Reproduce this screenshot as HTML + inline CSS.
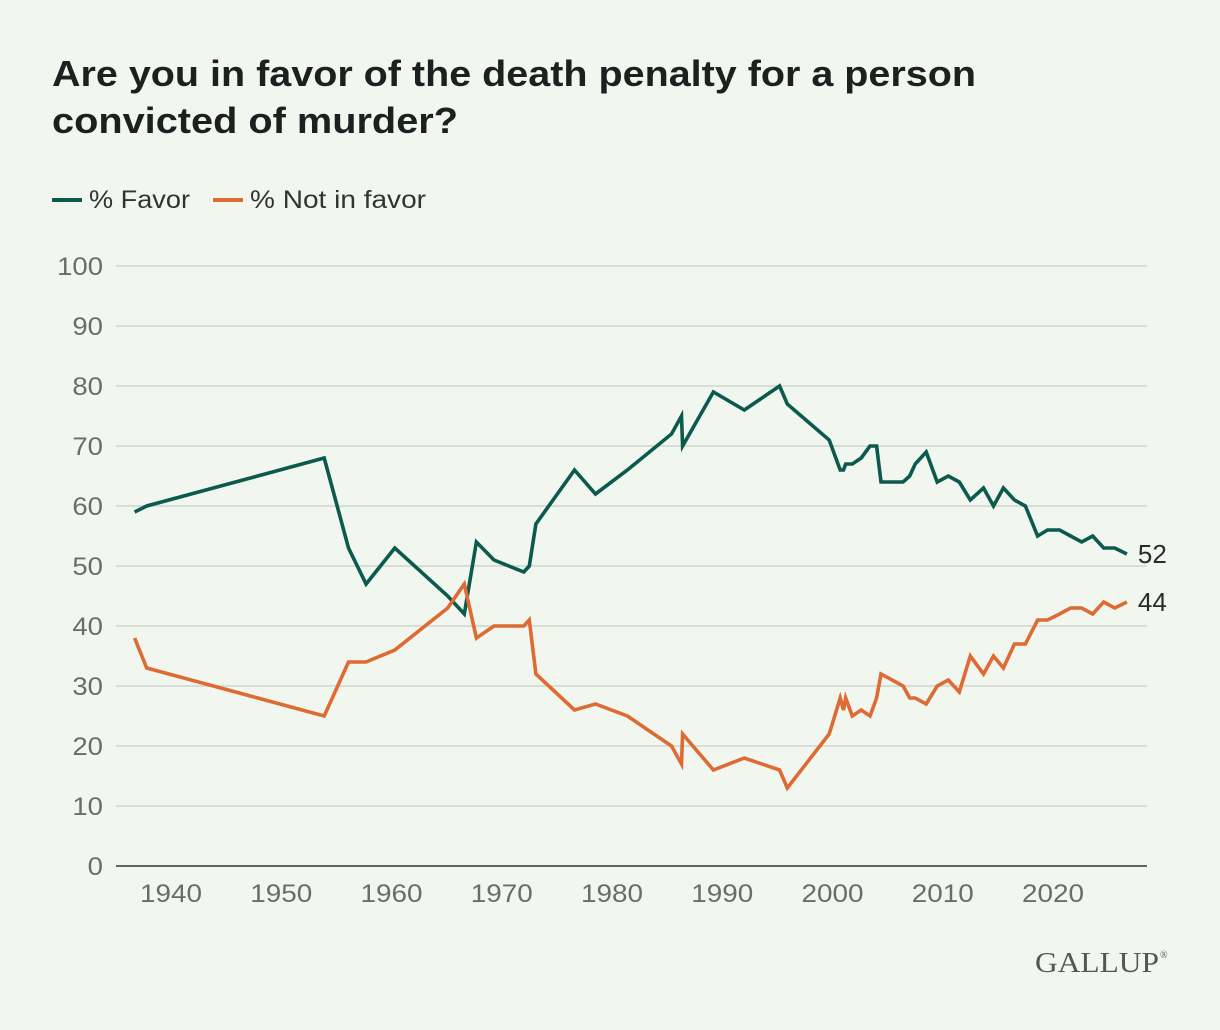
<!DOCTYPE html>
<html><head><meta charset="utf-8">
<style>
body{margin:0;background:#f1f7ef;}
svg{display:block;font-family:"Liberation Sans",Arial,sans-serif;}
</style></head>
<body>
<svg id="chart" width="1220" height="1030" viewBox="0 0 1220 1030">
<rect width="1220" height="1030" fill="#f1f7ef"/>
<text x="52" y="86" font-size="36" font-weight="bold" fill="#1f1f1f" textLength="924" lengthAdjust="spacingAndGlyphs">Are you in favor of the death penalty for a person</text>
<text x="52" y="133" font-size="36" font-weight="bold" fill="#1f1f1f" textLength="406" lengthAdjust="spacingAndGlyphs">convicted of murder?</text>
<g>
<g>
<line x1="52" y1="200" x2="82" y2="200" stroke="#0c5a4e" stroke-width="4"/>
<text x="89" y="208" font-size="25" fill="#333" textLength="101" lengthAdjust="spacingAndGlyphs">% Favor</text>
</g>
<g>
<line x1="213" y1="200" x2="243" y2="200" stroke="#dd6b33" stroke-width="4"/>
<text x="250" y="208" font-size="25" fill="#333" textLength="176" lengthAdjust="spacingAndGlyphs">% Not in favor</text>
</g>
</g>
<g id="grid"></g>
<g id="lines"></g>
<text x="1035" y="972" font-size="29" fill="#555" font-family="Liberation Serif,serif" textLength="124" lengthAdjust="spacingAndGlyphs">GALLUP</text>
<text x="1160" y="958" font-size="10" fill="#555" font-family="Liberation Serif,serif">®</text>
</svg>
<script>
const years=[1936.7,1937.8,1953.9,1956.1,1957.7,1960.3,1965.1,1966.6,1967.7,1969.3,1972.0,1972.5,1973.1,1976.6,1978.5,1981.4,1985.4,1986.3,1986.4,1989.2,1992.0,1995.2,1995.9,1999.7,2000.7,2001.0,2001.2,2001.8,2002.6,2003.4,2004.0,2004.4,2006.4,2007.0,2007.5,2008.5,2009.5,2010.5,2011.5,2012.5,2013.7,2014.6,2015.5,2016.5,2017.5,2018.6,2019.5,2020.6,2021.6,2022.6,2023.6,2024.6,2025.6,2026.7];
const favor=[59,60,68,53,47,53,45,42,54,51,49,50,57,66,62,66,72,75,70,79,76,80,77,71,66,66,67,67,68,70,70,64,64,65,67,69,64,65,64,61,63,60,63,61,60,55,56,56,55,54,55,53,53,52];
const notFavor=[38,33,25,34,34,36,43,47,38,40,40,41,32,26,27,25,20,17,22,16,18,16,13,22,28,26,28,25,26,25,28,32,30,28,28,27,30,31,29,35,32,35,33,37,37,41,41,42,43,43,42,44,43,44];
const yTicks=[0,10,20,30,40,50,60,70,80,90,100];
const xTicks=[1940,1950,1960,1970,1980,1990,2000,2010,2020];
const NS="http://www.w3.org/2000/svg";
function x(v){return 171+(v-1940)*11.025;}
function y(v){return 866-v*6;}
const grid=document.getElementById('grid');
const lines=document.getElementById('lines');
function mk(tag,attrs,parent){const e=document.createElementNS(NS,tag);for(const k in attrs)e.setAttribute(k,attrs[k]);parent.appendChild(e);return e;}
yTicks.forEach(t=>{
  const l=mk('line',{x1:116,x2:1147,y1:y(t),y2:y(t),stroke:t===0?'#333':'#d8ddd6','stroke-width':t===0?1.5:2},grid);
  
  
  const s=String(t);
  const tx=mk('text',{x:103,y:y(t)+9,'font-size':25,'text-anchor':'end',fill:'#6b6b6b',textLength:s.length*15.3,lengthAdjust:'spacingAndGlyphs'},grid);
  tx.textContent=t;
  
  
});
xTicks.forEach(t=>{
  const tx=mk('text',{x:x(t),y:902,'font-size':25,'text-anchor':'middle',fill:'#6b6b6b',textLength:62,lengthAdjust:'spacingAndGlyphs'},grid);
  tx.textContent=t;
  
  
});
function series(vals,color,name){
  const d=vals.map((v,i)=>(i?'L':'M')+x(years[i]).toFixed(1)+','+y(v).toFixed(1)).join(' ');
  const p=mk('path',{d:d,fill:'none',stroke:color,'stroke-width':3.6,'stroke-linejoin':'miter'},lines);
  
  
  const last=vals.length-1;
  const lb=mk('text',{x:x(years[last])+11,y:y(vals[last])+9,'font-size':26,fill:'#2b2b2b'},lines);
  lb.textContent=vals[last];
  
  
}
series(favor,'#0c5a4e','favor');
series(notFavor,'#dd6b33','not-in-favor');
</script>
</body></html>
